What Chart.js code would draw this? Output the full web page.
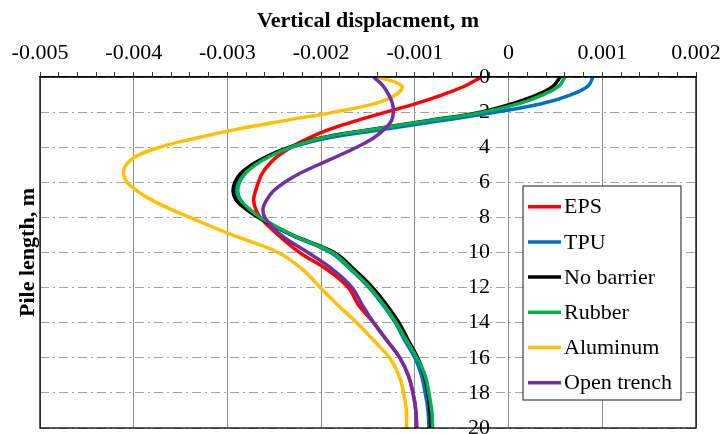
<!DOCTYPE html>
<html>
<head>
<meta charset="utf-8">
<script src="https://cdn.jsdelivr.net/npm/chart.js@4.4.1/dist/chart.umd.min.js"></script>
<style>
  html, body { margin: 0; padding: 0; background: #fff; }
  canvas { display: block; }
</style>
</head>
<body>
<canvas id="pileChart" width="725" height="434"></canvas>
<script>
// depth below the pile head, m
const depths = [0, 0.5, 1, 1.5, 2, 2.5, 3, 3.5, 4, 4.5, 5, 5.5, 6, 6.5, 7, 7.5, 8, 9, 10, 11, 12, 13, 14, 15, 16, 17, 18, 19, 20];

// vertical displacement at each depth, m
const eps        = [-0.00029, -0.00046, -0.00070, -0.00098, -0.00131, -0.00163, -0.00192, -0.00214, -0.00232, -0.00246, -0.00256, -0.00263, -0.00267, -0.00270, -0.00272, -0.00270, -0.00265, -0.00246, -0.00223, -0.00193, -0.00171, -0.00160, -0.00144, -0.00130, -0.00116, -0.00107, -0.00102, -0.00099, -0.00098];
const tpu        = [0.00090, 0.00085, 0.00067, 0.00037, -0.00013, -0.00073, -0.00136, -0.00196, -0.00231, -0.00255, -0.00272, -0.00283, -0.00289, -0.00291, -0.00289, -0.00279, -0.00266, -0.00232, -0.00190, -0.00168, -0.00149, -0.00134, -0.00121, -0.00111, -0.00100, -0.00093, -0.00089, -0.00086, -0.00085];
const noBarrier  = [0.00055, 0.00048, 0.00031, 0.00005, -0.00030, -0.00088, -0.00148, -0.00203, -0.00234, -0.00257, -0.00274, -0.00286, -0.00292, -0.00294, -0.00291, -0.00281, -0.00267, -0.00231, -0.00186, -0.00164, -0.00145, -0.00130, -0.00117, -0.00107, -0.00097, -0.00090, -0.00086, -0.00084, -0.00083];
const rubber     = [0.00060, 0.00054, 0.00037, 0.00012, -0.00027, -0.00086, -0.00147, -0.00202, -0.00232, -0.00254, -0.00270, -0.00281, -0.00287, -0.00289, -0.00286, -0.00277, -0.00265, -0.00231, -0.00188, -0.00167, -0.00148, -0.00133, -0.00120, -0.00109, -0.00098, -0.00089, -0.00085, -0.00082, -0.00081];
const aluminum   = [-0.00139, -0.00114, -0.00120, -0.00142, -0.00186, -0.00241, -0.00292, -0.00335, -0.00372, -0.00397, -0.00408, -0.00411, -0.00407, -0.00396, -0.00381, -0.00362, -0.00340, -0.00295, -0.00246, -0.00219, -0.00201, -0.00182, -0.00162, -0.00144, -0.00127, -0.00117, -0.00112, -0.00109, -0.00109];
const openTrench = [-0.00144, -0.00134, -0.00128, -0.00124, -0.00123, -0.00125, -0.00133, -0.00145, -0.00162, -0.00182, -0.00203, -0.00223, -0.00239, -0.00251, -0.00258, -0.00262, -0.00260, -0.00243, -0.00214, -0.00187, -0.00167, -0.00156, -0.00144, -0.00130, -0.00116, -0.00107, -0.00102, -0.00099, -0.00098];

const seriesNames  = ['EPS', 'TPU', 'No barrier', 'Rubber', 'Aluminum', 'Open trench'];
const seriesValues = [eps, tpu, noBarrier, rubber, aluminum, openTrench];
const seriesColors = ['#ff0000', '#0070c0', '#000000', '#00b050', '#ffc000', '#7030a0'];

const SERIF = "'Liberation Serif', 'Times New Roman', serif";
Chart.defaults.font.family = SERIF;
Chart.defaults.color = '#000';

function toPoints(values) {
    return values.map((v, i) => ({ x: v, y: depths[i] }));
}

// plot frame drawn over the curves
const framePlugin = {
    id: 'frame',
    afterDatasetsDraw(chart) {
        const a = chart.chartArea;
        const ctx = chart.ctx;
        ctx.save();
        ctx.strokeStyle = '#000';
        ctx.lineWidth = 1.3;
        ctx.strokeRect(a.left, a.top, a.right - a.left, a.bottom - a.top);
        ctx.restore();
    }
};

// boxed legend sitting inside the plot
const boxLegend = {
    id: 'boxLegend',
    afterDraw(chart) {
        const ctx = chart.ctx;
        const x = 523, y = 186, w = 158, h = 214;
        ctx.save();
        ctx.fillStyle = '#fff';
        ctx.fillRect(x, y, w, h);
        ctx.strokeStyle = '#404040';
        ctx.lineWidth = 1.2;
        ctx.strokeRect(x, y, w, h);
        ctx.font = '22px ' + SERIF;
        ctx.textBaseline = 'middle';
        ctx.fillStyle = '#000';
        chart.data.datasets.forEach((ds, i) => {
            const cy = y + 20.7 + i * 35.2;
            ctx.strokeStyle = ds.borderColor;
            ctx.lineWidth = 3.5;
            ctx.beginPath();
            ctx.moveTo(x + 5, cy);
            ctx.lineTo(x + 38, cy);
            ctx.stroke();
            ctx.fillText(ds.label, x + 41, cy + 1);
        });
        ctx.restore();
    }
};

const datasets = seriesNames.map((name, i) => ({
    label: name,
    data: toPoints(seriesValues[i]),
    borderColor: seriesColors[i],
    backgroundColor: seriesColors[i],
    borderWidth: 3.5,
    pointRadius: 0,
    showLine: true,
    tension: 0.4,
    fill: false,
    order: seriesNames.length - i   // later series on top
}));

new Chart(document.getElementById('pileChart'), {
    type: 'scatter',
    data: { datasets: datasets },
    options: {
        responsive: false,
        animation: false,
        layout: { padding: { left: 0, top: 0, right: 29, bottom: 6 } },
        plugins: {
            legend: { display: false },
            tooltip: { enabled: false }
        },
        scales: {
            x: {
                type: 'linear',
                position: 'top',
                min: -0.005,
                max: 0.002,
                afterFit(scale) {
                    scale.height = 77;
                    scale.paddingLeft = 0;
                    scale.paddingRight = 0;
                },
                title: {
                    display: true,
                    text: 'Vertical displacment, m',
                    font: { size: 22, weight: 'bold' },
                    padding: { top: 8, bottom: 0 }
                },
                ticks: {
                    stepSize: 0.0002,
                    autoSkip: false,
                    maxRotation: 0,
                    padding: 6,
                    font: { size: 22 },
                    callback: (value, index) => index % 5 === 0 ? String(+value.toFixed(3)) : ''
                },
                grid: {
                    color: ctx => ctx.index % 5 === 0 ? '#8c8c8c' : 'rgba(0,0,0,0)',
                    lineWidth: 1,
                    tickLength: 5,
                    tickColor: '#333'
                },
                border: { color: '#000', width: 1.3 }
            },
            y: {
                type: 'linear',
                position: 'left',
                min: 0,
                max: 20,
                reverse: true,
                afterFit(scale) {
                    scale.width = 40;
                    scale.paddingTop = 0;
                    scale.paddingBottom = 0;
                },
                title: {
                    display: true,
                    text: 'Pile length, m',
                    font: { size: 22, weight: 'bold' },
                    padding: { top: 15, bottom: 0 }
                },
                ticks: {
                    stepSize: 2,
                    mirror: true,
                    crossAlign: 'far',
                    padding: 428,
                    font: { size: 22 }
                },
                grid: {
                    color: '#a0a0a0',
                    lineWidth: 1,
                    drawTicks: false
                },
                border: { display: false, dash: [9, 4, 2, 4] }
            }
        }
    },
    plugins: [framePlugin, boxLegend]
});
</script>
</body>
</html>
